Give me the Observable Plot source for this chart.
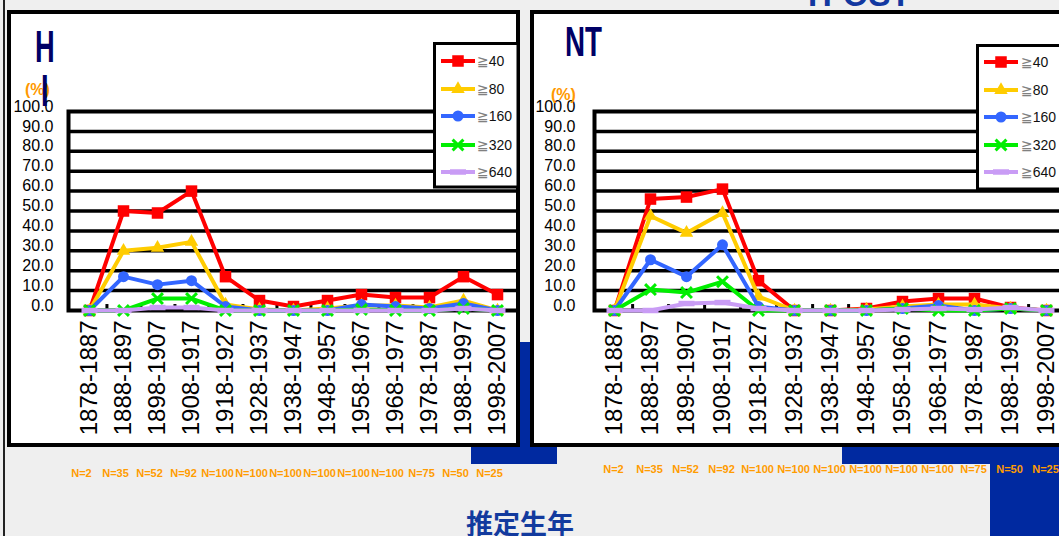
<!DOCTYPE html>
<html><head><meta charset="utf-8">
<script src="https://cdn.jsdelivr.net/npm/d3@7"></script>
<script src="https://cdn.jsdelivr.net/npm/@observablehq/plot@0.6"></script>
<style>
html,body{margin:0;padding:0;overflow:hidden;background:#efefef;width:1059px;height:536px;}
#root{position:relative;width:1059px;height:536px;overflow:hidden;font-family:'Liberation Sans',Arial,sans-serif;}
.abs{position:absolute;}
</style></head><body>
<div id="root"></div>
<script>
// ---- data ----
const cats = ["1878-1887","1888-1897","1898-1907","1908-1917","1918-1927","1928-1937","1938-1947","1948-1957","1958-1967","1968-1977","1978-1987","1988-1997","1998-2007"];
const nLabels = ["N=2","N=35","N=52","N=92","N=100","N=100","N=100","N=100","N=100","N=100","N=75","N=50","N=25"];
const levelLabels = ["40","80","160","320","640"];
const hi40  = [0,50,49,60,17,5,2,5,8,6.5,6.5,17,8];
const hi80  = [0,30,31.5,34.5,3,0.5,0,1,2.5,2.5,1.5,5,0];
const hi160 = [0,17,13,15,2,0,0,0,3,2,1,3.5,0];
const hi320 = [0,0,6,6,0,0,0,0,0.5,0,0,1,0];
const hi640 = [0,0,1.5,1.5,0,0,0,0,0,0,0,1,0];
const nt40  = [0,56,57,61,15,0,0,1,4.5,6,6,1.5,0];
const nt80  = [0,47.5,39,49,7,0,0,0.5,2,3,3,1,0];
const nt160 = [0,25.5,17,33,2,0,0,0,1,2.5,0,1,0];
const nt320 = [0,10.5,9,14.5,0,0,0,0,1,0,0,1,0];
const nt640 = [0,0,3.5,4,1,0,0,0,0.5,1,0.5,1.5,0];
const yTicks = [0,10,20,30,40,50,60,70,80,90,100];

// ---- styles ----
const colors = ["#ff0000","#ffcc00","#3366ff","#00ee00","#c99cf5"];
const dash = {draw(ctx, size){const r=Math.sqrt(size/Math.PI); ctx.rect(-1.6*r,-0.55*r,3.2*r,1.1*r);}};
const symbols = ["square","triangle","circle","times",dash];
const radii = [6.5,5,5.5,5,5];
const FONT = "'Liberation Sans', Arial, sans-serif";
const root = d3.select("#root");

function box(l,t,w,h,css){ root.append("div").attr("class","abs").attr("style",`left:${l}px;top:${t}px;width:${w}px;height:${h}px;${css}`); }

// background shapes
box(471,342,86,122,"background:#0029a0;");
box(842,440,230,24,"background:#0029a0;");
box(990,463,80,80,"background:#0029a0;");
box(3,0,2,536,"background:#222;");
// panels
box(7,10,513,437,"background:#fff;border:4px solid #000;box-sizing:border-box;");
box(530,10,600,437,"background:#fff;border:4px solid #000;box-sizing:border-box;");

function panel(series, cfg) {
  const rows = [];
  series.forEach((vals, s) => vals.forEach((v, i) => rows.push({s, cat: cats[i], v})));
  const rw = cfg.width - cfg.ml - cfg.mr;
  const step = rw / (cats.length - 1 + 2 * cfg.pad);
  const marks = [
    Plot.ruleY(yTicks.slice(1,-1), {stroke: "#000", strokeWidth: 3.5}),
    Plot.ruleX(cats.slice(0, -1), {x: d => d, y1: 0, y2: 3, dx: step / 2, stroke: "#000", strokeWidth: 3}),
    Plot.frame({stroke: "#000", strokeWidth: 4}),
    Plot.axisY({ticks: yTicks, label: null, tickSize: 0, tickPadding: cfg.yPad, tickFormat: d => d.toFixed(1), fontSize: 16, dy: -5, fill: "#000"}),
    Plot.axisX({label: null, tickSize: 0, tickPadding: 10, tickRotate: -90, fontSize: 24, fill: "#000"}),
    Plot.text(cats, {x: d => d, y: () => 0, text: (d, i) => nLabels[i], dy: cfg.nDy, dx: cfg.nDx, fill: "#ff9c00", fontWeight: "bold", fontSize: 11})
  ];
  series.forEach((vals, s) => {
    const data = rows.filter(r => r.s === s);
    marks.push(Plot.line(data, {x: "cat", y: "v", stroke: colors[s], strokeWidth: 4}));
    const st = s === 3 ? {stroke: colors[s], strokeWidth: 3, fill: "none"} : {fill: colors[s], stroke: "none"};
    marks.push(Plot.dot(data, {x: "cat", y: "v", symbol: symbols[s], r: radii[s], ...st}));
  });
  return Plot.plot({
    width: cfg.width, height: 480,
    marginLeft: cfg.ml, marginRight: cfg.mr, marginTop: 111, marginBottom: 170,
    x: {type: "point", domain: cats, padding: cfg.pad, label: null},
    y: {domain: [0, 100], label: null},
    style: {background: "transparent", fontFamily: FONT, overflow: "hidden"},
    marks
  });
}

function place(node, l, t, w){
  const d = root.append("div").attr("class","abs").attr("style",`left:${l}px;top:${t}px;width:${w}px;height:480px;`);
  d.node().appendChild(node);
}
place(panel([hi40,hi80,hi160,hi320,hi640], {width: 518, ml: 68, mr: 0, pad: 0.45, yPad: 15, nDy: 163, nDx: -8}), 0, 0, 518);
place(panel([nt40,nt80,nt160,nt320,nt640], {width: 540, ml: 64, mr: 5, pad: 0.5, yPad: 19, nDy: 159, nDx: -1}), 530, 0, 540);

// overlay: titles, legends
const ov = root.append("svg").attr("class","abs").attr("width",1059).attr("height",536)
  .style("left","0px").style("top","0px").style("font-family",FONT);

ov.append("text").attr("x",25).attr("y",95).attr("font-size",16).attr("font-weight","bold").attr("fill","#ff9900").text("(%)");
ov.append("text").attr("x",551).attr("y",100).attr("font-size",16).attr("font-weight","bold").attr("fill","#ff9900").text("(%)");
ov.append("text").attr("transform","translate(35,62) scale(0.62,1)").attr("font-size",44).attr("font-weight","bold").attr("fill","#000066").text("H");
ov.append("text").attr("transform","translate(41,106) scale(0.62,1)").attr("font-size",44).attr("font-weight","bold").attr("fill","#000066").text("I");
ov.append("text").attr("transform","translate(565,56) scale(0.66,1)").attr("font-size",42).attr("font-weight","bold").attr("fill","#000066").text("NT");
ov.append("text").attr("x",808).attr("y",6).attr("font-size",33).attr("font-weight","bold").attr("fill","#1238a0").text("H-OST");
ov.append("text").attr("x",520).attr("y",534).attr("text-anchor","middle").attr("font-size",27).attr("font-weight","bold")
  .attr("font-family","'Noto Sans CJK JP', sans-serif").attr("fill","#123a9e").text("推定生年");

function legend(x0, y0, x1, y1, lx0, lx1, tx, ys){
  const g = ov.append("g");
  g.append("rect").attr("x",x0).attr("y",y0).attr("width",x1-x0).attr("height",y1-y0).attr("fill","#fff").attr("stroke","#000").attr("stroke-width",3);
  ys.forEach((y, s) => {
    g.append("line").attr("x1",lx0).attr("x2",lx1).attr("y1",y).attr("y2",y).attr("stroke",colors[s]).attr("stroke-width",4);
    const sym = typeof symbols[s] === "string" ? {square: d3.symbolSquare, triangle: d3.symbolTriangle, circle: d3.symbolCircle, times: d3.symbolTimes}[symbols[s]] : symbols[s];
    const p = g.append("path").attr("transform",`translate(${(lx0+lx1)/2},${y})`).attr("d", d3.symbol(sym, Math.PI*radii[s]*radii[s])());
    if (s === 3) p.attr("fill","none").attr("stroke",colors[s]).attr("stroke-width",3);
    else p.attr("fill",colors[s]);
    const t = g.append("text").attr("x",tx).attr("y",y+5).attr("font-size",14);
    t.append("tspan").attr("fill","#808080").attr("font-family","'DejaVu Sans', sans-serif").text("≧");
    t.append("tspan").attr("fill","#111").text(levelLabels[s]);
  });
}
legend(434.5, 43.5, 518, 187, 441, 475, 477, [61,89,116,145,172]);
legend(977.5, 45.5, 1070, 189, 984, 1018, 1021, [62,90,117,145,172]);
</script></body></html>
